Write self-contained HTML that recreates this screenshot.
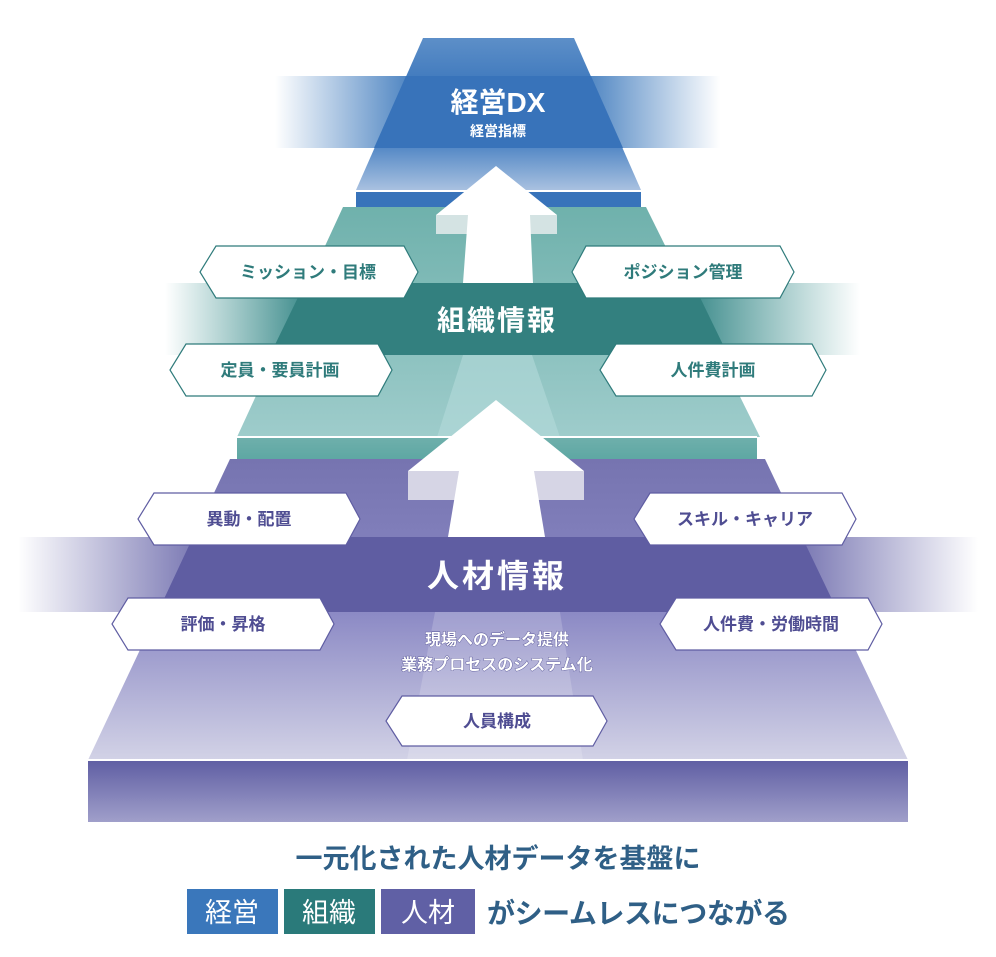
<!DOCTYPE html>
<html><head><meta charset="utf-8">
<style>
html,body{margin:0;padding:0;background:#fff;}
svg{display:block;}
text{font-family:"Liberation Sans","Noto Sans CJK JP",sans-serif;font-weight:bold;}
</style></head><body>
<svg width="996" height="957" viewBox="0 0 996 957" xmlns="http://www.w3.org/2000/svg">
<defs>
<linearGradient id="bL" x1="0" x2="1"><stop offset="0" stop-color="#3a77bb" stop-opacity="0"/><stop offset="1" stop-color="#3a77bb"/></linearGradient>
<linearGradient id="bR" x1="1" x2="0"><stop offset="0" stop-color="#3a77bb" stop-opacity="0"/><stop offset="1" stop-color="#3a77bb"/></linearGradient>
<linearGradient id="bT" x1="0" y1="0" x2="0" y2="1"><stop offset="0" stop-color="#5d8fc8"/><stop offset="0.3" stop-color="#3f79bd"/><stop offset="0.7" stop-color="#4f85c4"/><stop offset="1" stop-color="#a9c1e0"/></linearGradient>
<linearGradient id="tT" x1="0" y1="0" x2="0" y2="1"><stop offset="0" stop-color="#6fb1ac"/><stop offset="1" stop-color="#9ecccb"/></linearGradient>
<linearGradient id="tL" x1="0" x2="1"><stop offset="0" stop-color="#4a9a98" stop-opacity="0"/><stop offset="1" stop-color="#3f8c8c"/></linearGradient>
<linearGradient id="tR" x1="1" x2="0"><stop offset="0" stop-color="#4a9a98" stop-opacity="0"/><stop offset="1" stop-color="#3f8c8c"/></linearGradient>
<linearGradient id="pT" x1="0" y1="0" x2="0" y2="1"><stop offset="0" stop-color="#7674b0"/><stop offset="0.5" stop-color="#8a88c4"/><stop offset="1" stop-color="#d2d2e6"/></linearGradient>
<linearGradient id="pL" x1="0" x2="1"><stop offset="0" stop-color="#6a68aa" stop-opacity="0"/><stop offset="1" stop-color="#6a68aa"/></linearGradient>
<linearGradient id="pR" x1="1" x2="0"><stop offset="0" stop-color="#6a68aa" stop-opacity="0"/><stop offset="1" stop-color="#6a68aa"/></linearGradient>
<linearGradient id="pS" x1="0" y1="0" x2="0" y2="1"><stop offset="0" stop-color="#5f5ea3"/><stop offset="1" stop-color="#a09fca"/></linearGradient>
<linearGradient id="tS" x1="0" y1="0" x2="0" y2="1"><stop offset="0" stop-color="#6fb0ac"/><stop offset="1" stop-color="#5ea7a3"/></linearGradient>
</defs>

<!-- blue level -->
<rect x="275" y="76" width="150" height="72" fill="url(#bL)"/>
<rect x="572" y="76" width="148" height="72" fill="url(#bR)"/>
<polygon points="423,38 574,38 641,190 356,190" fill="url(#bT)"/>
<polygon points="406,76 591,76 623,148 374,148" fill="#3873ba"/>
<rect x="356" y="190" width="285" height="17" fill="#3873ba"/>
<rect x="356" y="190" width="285" height="2" fill="#fff"/>
<text x="498" y="112" font-size="28" fill="#fff" text-anchor="middle">経営DX</text>
<text x="498" y="136" font-size="14" fill="#fff" text-anchor="middle">経営指標</text>

<!-- teal level -->
<polygon points="343,207 646,207 760,437 237,437" fill="url(#tT)"/>
<rect x="165" y="283" width="140" height="72" fill="url(#tL)"/>
<rect x="693" y="283" width="167" height="72" fill="url(#tR)"/>
<polygon points="305,283 693,283 728,355 270,355" fill="#33807f"/>
<polygon points="463,355 532,355 560,437 437,437" fill="#b4dada" opacity="0.6"/>
<rect x="237" y="437" width="520" height="22" fill="url(#tS)"/>
<rect x="237" y="436" width="520" height="2" fill="#fff"/>
<text x="497" y="330" font-size="28" fill="#fff" text-anchor="middle" letter-spacing="2">組織情報</text>

<!-- upper arrow -->
<rect x="436" y="215" width="121" height="19" fill="#d4e3e3"/>
<polygon points="496,166 557,215 530,215 533,283 463,283 468,215 436,215" fill="#fff"/>

<!-- purple level -->
<polygon points="230,459 765,459 908,760 88,760" fill="url(#pT)"/>
<rect x="18" y="537" width="200" height="75" fill="url(#pL)"/>
<rect x="780" y="537" width="198" height="75" fill="url(#pR)"/>
<polygon points="193,537 802,537 838,612 158,612" fill="#5f5da2"/>
<polygon points="435,612 560,612 583,760 407,760" fill="#ffffff" opacity="0.18"/>
<rect x="88" y="760" width="820" height="62" fill="url(#pS)"/>
<rect x="88" y="759" width="820" height="2" fill="#fff"/>
<text x="497" y="587" font-size="32" fill="#fff" text-anchor="middle" letter-spacing="3">人材情報</text>
<text x="497" y="645" font-size="16" fill="#fff" stroke="#4f4d92" stroke-width="0.8" paint-order="stroke" text-anchor="middle">現場へのデータ提供</text>
<text x="497" y="670" font-size="16" fill="#fff" stroke="#4f4d92" stroke-width="0.8" paint-order="stroke" text-anchor="middle">業務プロセスのシステム化</text>

<!-- lower arrow -->
<rect x="408" y="471" width="176" height="29" fill="#d6d5e5"/>
<polygon points="496,400 584,471 534,471 545,537 448,537 459,471 408,471" fill="#fff"/>

<!-- hex labels teal -->
<g stroke="#2f7b7b" stroke-width="1.2" fill="#fff">
<polygon points="216,246 404,246 418,272 404,298 216,298 200,272"/>
<polygon points="586,246 780,246 794,272 780,298 586,298 572,272"/>
<polygon points="186,344 378,344 392,370 378,396 186,396 170,370"/>
<polygon points="616,344 812,344 826,370 812,396 616,396 600,370"/>
</g>
<g fill="#2f7b7b" font-size="17" text-anchor="middle">
<text x="308" y="278">ミッション・目標</text>
<text x="683" y="278">ポジション管理</text>
<text x="280" y="376">定員・要員計画</text>
<text x="713" y="376">人件費計画</text>
</g>
<!-- hex labels purple -->
<g stroke="#5f5da2" stroke-width="1.2" fill="#fff">
<polygon points="154,493 346,493 360,519 346,545 154,545 138,519"/>
<polygon points="650,493 842,493 856,519 842,545 650,545 634,519"/>
<polygon points="128,598 320,598 334,624 320,650 128,650 112,624"/>
<polygon points="676,598 868,598 882,624 868,650 676,650 660,624"/>
<polygon points="402,696 593,696 607,721 593,746 402,746 386,721"/>
</g>
<g fill="#4f4d92" font-size="17" text-anchor="middle">
<text x="249" y="525">異動・配置</text>
<text x="745" y="525">スキル・キャリア</text>
<text x="223" y="630">評価・昇格</text>
<text x="771" y="630">人件費・労働時間</text>
<text x="497" y="727">人員構成</text>
</g>

<!-- bottom caption -->
<text x="498" y="868" font-size="27" fill="#2f5f86" text-anchor="middle">一元化された人材データを基盤に</text>
<rect x="187" y="889" width="91" height="45" fill="#3a77bb"/>
<rect x="284" y="889" width="91" height="45" fill="#2a7a7a"/>
<rect x="381" y="889" width="94" height="45" fill="#6060a5"/>
<g fill="#fff" font-size="27" text-anchor="middle">
<text x="232" y="922" style="font-weight:normal">経営</text>
<text x="329" y="922" style="font-weight:normal">組織</text>
<text x="428" y="922" style="font-weight:normal">人材</text>
</g>
<text x="487" y="923" font-size="28" fill="#2f5f86" textLength="303" lengthAdjust="spacing">がシームレスにつながる</text>
</svg>
</body></html>
